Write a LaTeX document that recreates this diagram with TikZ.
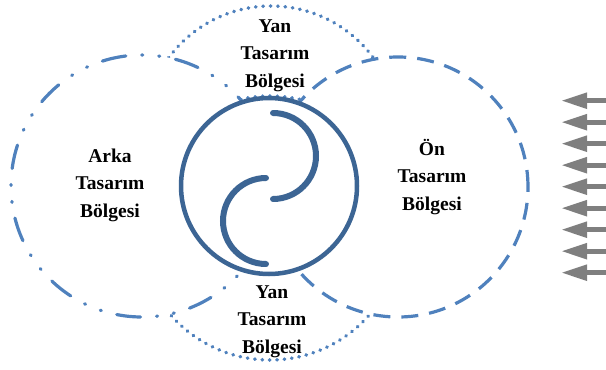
\documentclass[tikz,border=0pt]{standalone}
\usepackage{fontspec}
\setmainfont{Liberation Serif}
\usetikzlibrary{arrows.meta}
\definecolor{mainblue}{HTML}{3C6594}
\definecolor{zoneblue}{HTML}{4F81BD}
\definecolor{arrowgray}{HTML}{7F7F7F}
\tikzset{
  zone/.style={draw=zoneblue, line width=3.2pt},
  dotzone/.style={zone, line width=3.6pt, line cap=round, dash pattern=on 0.4pt off 7pt},
  dashdotzone/.style={zone, fill=white, line cap=round, dash pattern=on 24pt off 16pt on 1pt off 16pt on 1pt off 16pt},
  dashzone/.style={zone, fill=white, dash pattern=on 17pt off 11pt},
  label/.style={align=center, anchor=base, inner sep=0pt, text=black,
    font=\fontsize{19.5}{27.5}\selectfont\bfseries},
  flow/.style={draw=arrowgray, line width=5pt, -{Triangle[length=26pt,width=15pt]}}
}
\begin{document}
\begin{tikzpicture}[x=1pt,y=-1pt]
\useasboundingbox (0,0) rectangle (606,370);
% side (top / bottom) zones
\draw[dotzone] (271,133) circle[radius=127pt];
\draw[dotzone] (270,228) circle[radius=132pt];
% rear and front zones
\draw[dashdotzone] (142,186) circle[radius=131pt];
\draw[dashzone] (398,187) circle[radius=130pt];
% main rotor
\draw[mainblue, line width=4.5pt, fill=white] (269,186) circle[radius=88pt];
\draw[mainblue, line width=6pt, line cap=round] (273,113) arc[start angle=90, end angle=-90, radius=43pt];
\draw[mainblue, line width=6pt, line cap=round] (266,178) arc[start angle=90, end angle=270, radius=43pt];
% labels (anchor = baseline of the last line)
\node[label] (top) at (275,87) {Yan\\Tasarım\\Bölgesi};
\node[label] (bottom) at (272,353) {Yan\\Tasarım\\Bölgesi};
\node[label] (rear) at (110,217) {Arka\\Tasarım\\Bölgesi};
\node[label] (front) at (432,210) {Ön\\Tasarım\\Bölgesi};
% incoming flow arrows
\foreach \i in {0,...,8}{
  \coordinate (s\i) at (606,{100.7+21.5*\i});
  \coordinate (e\i) at (561,{100.7+21.5*\i});
  \draw[flow] (s\i) -- (e\i);
}
\end{tikzpicture}
\end{document}
